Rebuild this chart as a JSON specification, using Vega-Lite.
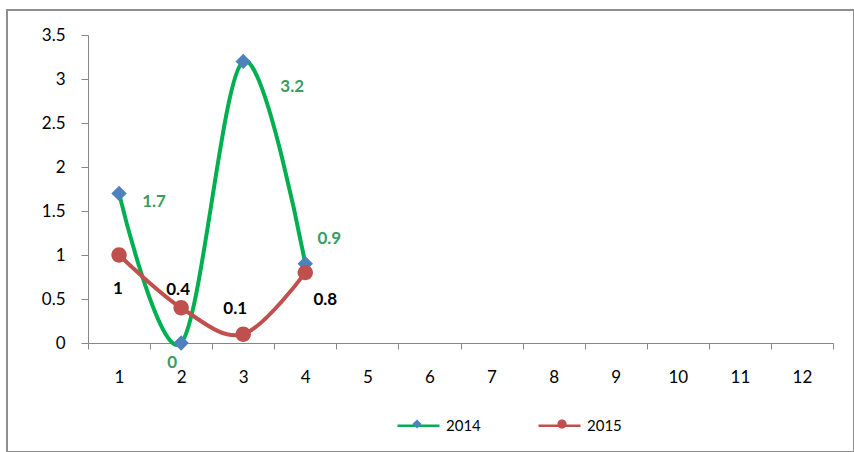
{
  "$schema": "https://vega.github.io/schema/vega-lite/v6.json",
  "width": 847,
  "height": 442,
  "autosize": {"type": "none"},
  "padding": {"left": 7, "top": 10, "right": 0, "bottom": 0},
  "background": "white",
  "config": {
    "view": {"stroke": "#8f8f8f", "strokeWidth": 2},
    "font": "Lato",
    "axis": {
      "domainColor": "#868686",
      "tickColor": "#868686",
      "domainWidth": 1,
      "tickWidth": 1,
      "labelColor": "#000000",
      "labelFont": "Lato",
      "labelFontSize": 17,
      "grid": false,
      "title": null
    }
  },
  "data": {
    "values": [
      {"month": 1, "series": "2014", "value": 1.7},
      {"month": 2, "series": "2014", "value": 0},
      {"month": 3, "series": "2014", "value": 3.2},
      {"month": 4, "series": "2014", "value": 0.9},
      {"month": 1, "series": "2015", "value": 1},
      {"month": 2, "series": "2015", "value": 0.4},
      {"month": 3, "series": "2015", "value": 0.1},
      {"month": 4, "series": "2015", "value": 0.8}
    ]
  },
  "encoding": {
    "x": {
      "field": "month",
      "type": "ordinal",
      "scale": {"type": "band", "domain": [1, 2, 3, 4, 5, 6, 7, 8, 9, 10, 11, 12], "range": [81, 826], "paddingInner": 0, "paddingOuter": 0},
      "axis": {"offset": -109, "tickBand": "extent", "labelAngle": 0, "tickSize": 6, "labelPadding": 20}
    },
    "y": {
      "field": "value",
      "type": "quantitative",
      "scale": {"domain": [0, 3.5], "range": [333, 25], "nice": false, "zero": false},
      "axis": {"offset": -81, "values": [0, 0.5, 1, 1.5, 2, 2.5, 3, 3.5], "format": ".1~f", "tickSize": 7, "labelPadding": 16}
    }
  },
  "layer": [
    {
      "mark": {"type": "line", "interpolate": "cardinal", "strokeWidth": 4},
      "encoding": {
        "stroke": {
          "field": "series",
          "type": "nominal",
          "scale": {"domain": ["2014", "2015"], "range": ["#00B050", "#C0504D"]},
          "legend": {
            "orient": "none", "legendX": 389, "legendY": 393, "direction": "horizontal",
            "title": null, "symbolType": "stroke", "symbolSize": 1764, "symbolStrokeWidth": 2.5,
            "labelFontSize": 15, "labelFont": "Lato", "labelColor": "#000000", "labelOffset": 5,
            "columnPadding": 52, "padding": 0
          }
        }
      }
    },
    {
      "mark": {"type": "point", "filled": true, "size": 4900, "opacity": 1, "strokeWidth": 0},
      "encoding": {
        "fill": {
          "field": "series",
          "type": "nominal",
          "scale": {"range": ["#4F81BD", "#C0504D"]},
          "legend": {
            "orient": "none", "legendX": 389, "legendY": 393, "direction": "horizontal",
            "title": null, "symbolSize": 1764, "symbolStrokeWidth": 0,
            "labelExpr": "''", "labelFontSize": 15, "labelFont": "Lato", "labelOffset": 0,
            "columnPadding": 103, "padding": 0
          }
        },
        "shape": {
          "field": "series",
          "type": "nominal",
          "scale": {"range": ["M 0 -0.22 L 0.22 0 L 0 0.22 L -0.22 0 Z", "M -0.22 0 A 0.22 0.22 0 1 1 0.22 0 A 0.22 0.22 0 1 1 -0.22 0 Z"]}
        }
      }
    },
    {
      "transform": [{"filter": "datum.series == '2014' && datum.month == 1"}],
      "mark": {"type": "text", "font": "Lato", "fontSize": 17, "fontWeight": "bold", "color": "#3A9C62", "align": "center", "baseline": "middle", "dx": 35, "dy": 9},
      "encoding": {"text": {"field": "value", "type": "quantitative"}}
    },
    {
      "transform": [{"filter": "datum.series == '2014' && datum.month == 2"}],
      "mark": {"type": "text", "font": "Lato", "fontSize": 17, "fontWeight": "bold", "color": "#3A9C62", "align": "center", "baseline": "middle", "dx": -9, "dy": 20},
      "encoding": {"text": {"field": "value", "type": "quantitative"}}
    },
    {
      "transform": [{"filter": "datum.series == '2014' && datum.month == 3"}],
      "mark": {"type": "text", "font": "Lato", "fontSize": 17, "fontWeight": "bold", "color": "#3A9C62", "align": "center", "baseline": "middle", "dx": 49, "dy": 26},
      "encoding": {"text": {"field": "value", "type": "quantitative"}}
    },
    {
      "transform": [{"filter": "datum.series == '2014' && datum.month == 4"}],
      "mark": {"type": "text", "font": "Lato", "fontSize": 17, "fontWeight": "bold", "color": "#3A9C62", "align": "center", "baseline": "middle", "dx": 24, "dy": -25},
      "encoding": {"text": {"field": "value", "type": "quantitative"}}
    },
    {
      "transform": [{"filter": "datum.series == '2015' && datum.month == 1"}],
      "mark": {"type": "text", "font": "Lato", "fontSize": 17, "fontWeight": "bold", "color": "#000000", "align": "center", "baseline": "middle", "dx": -1, "dy": 34},
      "encoding": {"text": {"field": "value", "type": "quantitative"}}
    },
    {
      "transform": [{"filter": "datum.series == '2015' && datum.month == 2"}],
      "mark": {"type": "text", "font": "Lato", "fontSize": 17, "fontWeight": "bold", "color": "#000000", "align": "center", "baseline": "middle", "dx": -3, "dy": -18},
      "encoding": {"text": {"field": "value", "type": "quantitative"}}
    },
    {
      "transform": [{"filter": "datum.series == '2015' && datum.month == 3"}],
      "mark": {"type": "text", "font": "Lato", "fontSize": 17, "fontWeight": "bold", "color": "#000000", "align": "center", "baseline": "middle", "dx": -8, "dy": -25},
      "encoding": {"text": {"field": "value", "type": "quantitative"}}
    },
    {
      "transform": [{"filter": "datum.series == '2015' && datum.month == 4"}],
      "mark": {"type": "text", "font": "Lato", "fontSize": 17, "fontWeight": "bold", "color": "#000000", "align": "center", "baseline": "middle", "dx": 20, "dy": 27},
      "encoding": {"text": {"field": "value", "type": "quantitative"}}
    }
  ]
}
